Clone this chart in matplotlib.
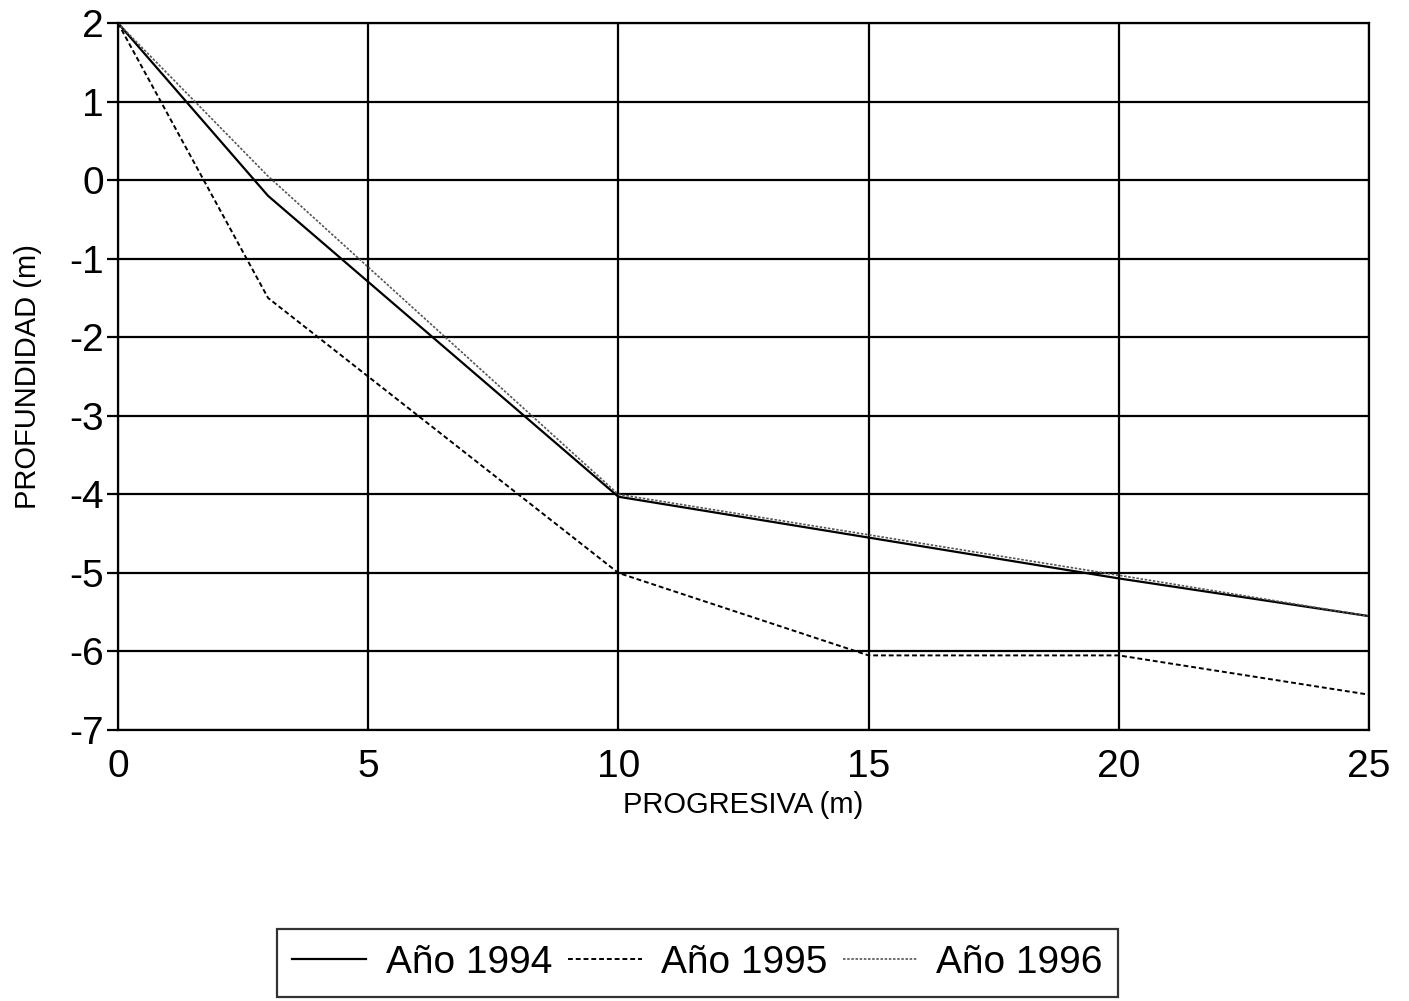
import matplotlib
matplotlib.use("Agg")
import matplotlib.pyplot as plt

x_1994 = [0, 3, 10, 20, 25]
y_1994 = [2, -0.2, -4.03, -5.07, -5.55]
x_1995 = [0, 3, 10, 15, 20, 25]
y_1995 = [2, -1.5, -5.0, -6.05, -6.05, -6.55]
x_1996 = [0, 3, 10, 20, 25]
y_1996 = [2, 0.05, -4.0, -5.03, -5.55]
xticks = [0, 5, 10, 15, 20, 25]
yticks = [2, 1, 0, -1, -2, -3, -4, -5, -6, -7]

plt.rcParams['font.family'] = ['Liberation Sans', 'DejaVu Sans']
plt.rcParams['axes.unicode_minus'] = False
fig = plt.figure(figsize=(14.09, 10.01), dpi=100)
ax = fig.add_axes([0.0837, 0.2707, 0.8879, 0.7063])

l1, = ax.plot(x_1994, y_1994, color='black', lw=1.6, label='Año 1994')
l2, = ax.plot(x_1995, y_1995, color='black', lw=1.4, ls=(0, (2.5, 1.5)), label='Año 1995')
l3, = ax.plot(x_1996, y_1996, color='#555555', lw=1.2, ls=(0, (1.5, 1)), label='Año 1996')

ax.set_xlim(0, 25)
ax.set_ylim(-7, 2)
ax.set_xticks(xticks)
ax.set_yticks(yticks)
ax.grid(True, color='black', lw=1.6)
for s in ax.spines.values():
    s.set_color('black')
    s.set_linewidth(1.6)
ax.tick_params(axis='both', labelsize=28, length=0, pad=14, colors='black')
ax.tick_params(axis='y', length=8, width=1.6, pad=2)
ax.set_xlabel('PROGRESIVA (m)', fontsize=21, labelpad=4)
ax.set_ylabel('PROFUNDIDAD (m)', fontsize=21, labelpad=20)

leg = fig.legend(handles=[l1, l2, l3], loc='center',
                 bbox_to_anchor=(0.1916, 0.003, 0.607, 0.07),
                 ncol=3, fontsize=28, frameon=True, fancybox=False,
                 edgecolor='black', handlelength=1.9, handletextpad=0.5,
                 columnspacing=0.4, borderpad=0.4)
leg.get_frame().set_linewidth(1.6)

fig.savefig('out.png', dpi=100)
